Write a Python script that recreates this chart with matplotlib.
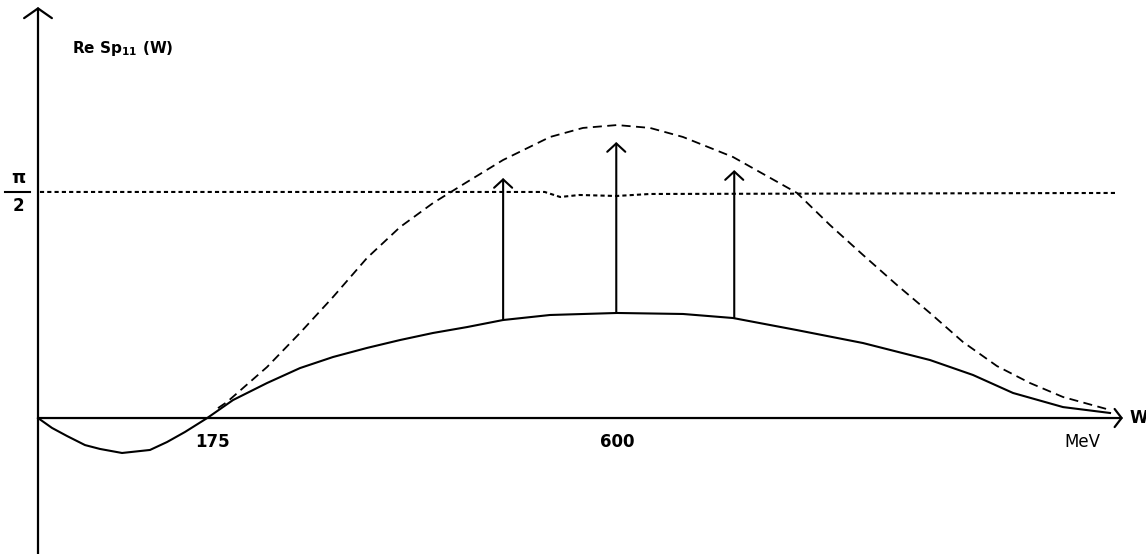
import matplotlib
matplotlib.use("Agg")
import matplotlib.pyplot as plt

plt.rcParams["font.family"] = ["DejaVu Sans"]
plt.rcParams["mathtext.default"] = "regular"

# W in MeV, phase in radians
solid_w = [0, 14.5, 30, 48.6, 64.1, 86.9, 115.8, 133.4, 152, 175, 201.7, 236.8, 270.9,
           305.1, 340.2, 374.4, 408.5, 443.6, 480.9, 529.5, 598.8, 667, 718.7, 784.9,
           853.2, 922.4, 966.9, 1008.3, 1060, 1108.6]
solid_phi = [0, -0.069, -0.125, -0.188, -0.215, -0.243, -0.222, -0.167, -0.097, 0,
             0.125, 0.243, 0.347, 0.424, 0.487, 0.542, 0.591, 0.632, 0.681, 0.716,
             0.73, 0.723, 0.695, 0.611, 0.521, 0.403, 0.299, 0.174, 0.076, 0.035]

dash_w = [186.1, 195.4, 236.8, 270.9, 305.1, 340.2, 374.4, 408.5, 443.6, 480.9, 529.5,
          563.6, 598.8, 632.9, 667, 718.7, 784.9, 819, 853.2, 888.3, 922.4, 956.6,
          991.7, 1025.9, 1060, 1108.6]
dash_phi = [0.069, 0.111, 0.354, 0.591, 0.841, 1.112, 1.327, 1.494, 1.64, 1.793, 1.953,
            2.016, 2.036, 2.016, 1.953, 1.814, 1.564, 1.341, 1.133, 0.924, 0.73, 0.528,
            0.361, 0.243, 0.146, 0.056]

dot_w = [2, 524, 540, 560, 598, 633, 1114]
dot_phi = [1.571, 1.571, 1.536, 1.55, 1.543, 1.557, 1.564]

arrow_w = [481, 598, 720]
arrow_base = [0.681, 0.737, 0.695]
arrow_tip = [1.668, 1.918, 1.723]

tick_w = [180, 599]
tick_labels = ["175", "600"]

fig = plt.figure(figsize=(11.46, 5.54), dpi=100)
ax = fig.add_axes([0, 0, 1, 1])
ax.set_xlim(-39.3, 1145.8)
ax.set_ylim(-0.945, 2.905)
ax.axis("off")

# axes with open arrow heads
ax.annotate("", xy=(0, 2.856), xytext=(0, -0.95),
            arrowprops=dict(arrowstyle="->, head_length=0.7, head_width=1.0",
                            lw=1.6, color="black", shrinkA=0, shrinkB=0))
ax.annotate("", xy=(1122, 0), xytext=(0, 0),
            arrowprops=dict(arrowstyle="->, head_length=0.5, head_width=0.65",
                            lw=1.6, color="black", shrinkA=0, shrinkB=0))

ax.plot(solid_w, solid_phi, color="black", lw=1.5, solid_joinstyle="round")
ax.plot(dash_w, dash_phi, color="black", lw=1.3, linestyle=(0, (5, 3)))
ax.plot(dot_w, dot_phi, color="black", lw=1.5, linestyle=(0, (2, 1.5)))

for w, b, t in zip(arrow_w, arrow_base, arrow_tip):
    ax.annotate("", xy=(w, t), xytext=(w, b),
                arrowprops=dict(arrowstyle="->, head_length=0.6, head_width=0.65",
                                lw=1.5, color="black", shrinkA=0, shrinkB=0))

for w, lab in zip(tick_w, tick_labels):
    ax.text(w, -0.167, lab, ha="center", va="center", fontsize=12, fontweight="bold")
ax.text(1080, -0.167, "MeV", ha="center", va="center", fontsize=12)
ax.text(1129, 0, "W", ha="left", va="center", fontsize=12, fontweight="bold")

ax.text(35, 2.57, r"Re Sp$_{11}$ (W)", ha="left", va="center", fontsize=11,
        fontweight="bold")

# pi/2 label
ax.text(-20, 1.67, "π", ha="center", va="center", fontsize=13, fontweight="bold")
ax.plot([-34, -8], [1.57, 1.57], color="black", lw=1.5)
ax.text(-20, 1.47, "2", ha="center", va="center", fontsize=12, fontweight="bold")

fig.savefig("out.png", dpi=100)
